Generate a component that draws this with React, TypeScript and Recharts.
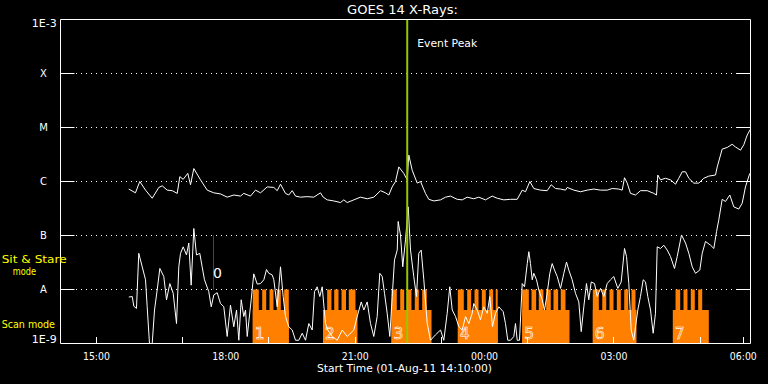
import React from 'react';
import {
  ComposedChart,
  Line,
  XAxis,
  YAxis,
  CartesianGrid,
  ReferenceArea,
  ReferenceLine,
} from 'recharts';

const FONT = '"DejaVu Sans", "Liberation Sans", sans-serif';

// x: minutes after the start time (01-Aug-11 14:10:00); y: log10 of the X-ray flux (W/m^2)
const longChannel: [number, number][] = [
  [95.0, -6.14], [104.3, -6.21], [110.3, -6.0], [118.3, -6.16], [127.6, -6.31], [136.8, -6.11],
  [141.5, -6.08], [148.5, -6.16], [155.4, -6.17], [162.4, -6.22], [166.0, -5.91], [170.7, -5.96],
  [177.1, -5.85], [180.9, -6.06], [185.5, -5.76], [194.8, -5.97], [204.1, -6.16], [213.3, -6.21],
  [222.6, -6.23], [231.9, -6.29], [241.1, -6.25], [250.4, -6.27], [255.0, -6.22], [264.3, -6.27],
  [271.3, -6.16], [278.3, -6.21], [287.6, -6.1], [296.8, -6.11], [301.5, -6.17], [306.1, -6.05],
  [313.0, -6.22], [317.6, -6.25], [322.4, -6.17], [327.0, -6.27], [333.9, -6.29], [343.2, -6.28],
  [352.4, -6.29], [361.7, -6.21], [365.5, -6.29], [371.1, -6.34], [380.2, -6.36], [389.6, -6.39],
  [394.2, -6.34], [398.9, -6.39], [408.1, -6.34], [417.4, -6.29], [426.7, -6.32], [435.9, -6.29],
  [445.2, -6.17], [452.2, -6.21], [456.8, -6.25], [461.5, -6.1], [466.1, -6.0], [470.7, -5.73],
  [477.6, -5.85], [482.4, -5.97], [484.6, -5.51], [489.3, -5.79], [496.3, -6.03], [500.9, -6.0],
  [507.8, -6.22], [512.4, -6.33], [519.4, -6.36], [528.7, -6.34], [535.7, -6.29], [542.6, -6.27],
  [551.9, -6.33], [558.9, -6.34], [565.8, -6.29], [575.0, -6.32], [582.0, -6.29], [591.3, -6.34],
  [600.6, -6.27], [607.6, -6.31], [616.8, -6.34], [626.1, -6.33], [635.4, -6.33], [642.4, -6.16],
  [647.0, -6.19], [653.0, -6.0], [658.5, -6.13], [667.8, -6.16], [677.1, -6.17], [682.7, -6.06],
  [688.7, -6.13], [695.7, -6.14], [702.6, -6.16], [705.0, -6.11], [714.2, -6.16], [723.5, -6.19],
  [732.8, -6.16], [742.0, -6.14], [751.3, -6.16], [760.6, -6.16], [767.6, -6.13], [776.8, -6.14],
  [781.5, -6.16], [784.7, -5.93], [788.5, -6.03], [793.0, -6.22], [800.0, -6.25], [807.0, -6.17],
  [816.3, -6.17], [825.5, -6.22], [829.2, -6.25], [831.0, -5.88], [834.8, -5.97], [841.7, -5.94],
  [848.7, -5.97], [855.7, -6.05], [860.2, -5.94], [865.0, -5.82], [869.6, -5.82], [874.2, -5.94],
  [881.1, -6.03], [888.1, -6.03], [895.0, -5.94], [902.0, -5.9], [911.3, -5.88], [913.7, -5.73],
  [920.6, -5.4], [927.6, -5.37], [934.5, -5.31], [939.1, -5.36], [946.1, -5.42], [950.7, -5.32],
  [955.4, -5.14], [960.0, -5.03],
];

const shortChannel: [number, number][] = [
  [95.0, -8.14], [99.8, -8.13], [102.0, -8.31], [105.7, -8.35], [108.9, -7.33], [113.7, -7.58],
  [118.3, -7.82], [120.6, -8.32], [123.8, -9.0], [127.6, -9.0], [130.8, -8.38], [134.5, -8.01],
  [138.2, -7.61], [143.7, -7.76], [147.5, -8.19], [152.1, -7.89], [156.8, -8.07], [161.4, -8.63],
  [164.6, -7.58], [167.0, -7.33], [170.7, -7.21], [175.3, -7.36], [178.5, -7.14], [181.8, -7.92],
  [185.5, -6.87], [189.2, -7.36], [193.8, -7.33], [197.1, -7.58], [200.3, -7.82], [206.3, -8.04],
  [209.7, -8.32], [213.3, -8.1], [218.0, -8.06], [222.6, -8.26], [227.2, -8.32], [231.9, -8.87],
  [236.5, -8.29], [241.1, -8.69], [244.9, -8.38], [248.1, -8.94], [251.4, -8.19], [255.0, -8.5],
  [257.4, -8.38], [259.8, -8.87], [265.3, -8.19], [268.9, -7.71], [273.7, -7.9], [278.3, -7.89],
  [282.9, -7.82], [286.6, -7.63], [289.8, -7.7], [294.5, -7.73], [296.8, -7.82], [301.5, -8.32],
  [306.1, -7.58], [309.8, -8.13], [313.0, -8.5], [317.6, -8.69], [322.4, -8.75], [327.0, -8.94],
  [331.5, -8.94], [336.3, -8.81], [340.9, -8.94], [345.5, -8.63], [350.2, -8.75], [353.4, -8.04],
  [357.1, -7.95], [360.8, -8.13], [364.1, -7.95], [368.7, -8.63], [371.9, -8.75], [378.0, -8.87],
  [385.0, -8.94], [391.9, -8.75], [398.9, -8.87], [408.1, -8.75], [412.8, -8.5], [418.4, -8.23],
  [422.0, -8.38], [426.7, -8.23], [431.3, -8.63], [435.9, -8.87], [440.6, -8.5], [444.2, -7.7],
  [447.6, -7.76], [450.8, -8.07], [454.5, -8.44], [458.2, -8.87], [461.5, -8.13], [464.7, -7.45],
  [468.5, -7.27], [469.8, -6.74], [473.0, -6.99], [476.2, -7.58], [480.0, -7.08], [483.8, -6.47],
  [487.0, -7.27], [491.5, -7.76], [495.3, -8.13], [498.5, -7.33], [501.8, -7.27], [505.5, -7.82],
  [510.2, -8.63], [514.8, -8.94], [521.7, -8.84], [528.7, -8.75], [533.3, -8.94], [538.0, -8.44],
  [541.6, -7.95], [545.0, -8.38], [549.6, -8.5], [554.2, -8.69], [558.9, -8.75], [563.5, -8.5],
  [568.1, -8.63], [572.8, -8.44], [575.0, -8.26], [579.8, -8.38], [584.3, -8.56], [588.9, -8.32],
  [593.7, -8.44], [597.3, -8.13], [601.0, -8.69], [605.2, -8.44], [609.8, -8.32], [615.9, -8.41],
  [619.1, -8.63], [622.3, -8.94], [626.1, -8.94], [630.7, -8.87], [633.0, -8.63], [635.4, -8.94],
  [638.6, -8.94], [642.4, -7.89], [645.6, -7.95], [649.4, -7.52], [651.6, -7.3], [653.9, -7.52],
  [656.3, -7.82], [658.5, -7.7], [662.3, -7.82], [665.5, -8.01], [670.2, -8.19], [673.4, -8.38],
  [677.1, -8.07], [680.8, -7.7], [684.1, -7.52], [687.3, -7.64], [691.1, -7.76], [695.7, -7.98],
  [700.3, -7.7], [704.0, -7.49], [707.2, -7.64], [711.9, -7.82], [716.5, -8.07], [721.1, -8.23],
  [724.5, -8.78], [728.1, -8.32], [731.8, -7.89], [735.0, -8.19], [738.4, -7.86], [743.0, -7.89],
  [746.7, -8.13], [751.3, -7.98], [755.9, -8.13], [760.6, -7.89], [765.2, -7.82], [769.8, -7.76],
  [775.4, -7.98], [780.1, -7.86], [784.7, -7.24], [787.5, -7.39], [790.7, -7.89], [794.0, -8.75],
  [797.6, -8.94], [800.0, -8.69], [803.2, -8.38], [806.9, -8.13], [810.7, -7.82], [813.9, -7.86],
  [817.1, -8.13], [820.9, -8.38], [824.6, -8.81], [827.8, -8.44], [830.2, -7.21], [834.8, -7.24],
  [839.4, -7.18], [844.1, -7.27], [848.7, -7.39], [854.3, -7.61], [858.0, -7.39], [864.0, -6.99],
  [869.6, -7.14], [874.2, -7.33], [878.9, -7.58], [883.5, -7.7], [889.5, -7.64], [892.8, -7.33],
  [897.4, -7.11], [904.4, -7.18], [909.0, -7.24], [912.7, -6.93], [915.9, -6.71], [920.6, -6.33],
  [925.2, -6.37], [931.2, -6.25], [936.8, -6.47], [943.7, -6.51], [948.5, -6.4], [953.0, -6.1],
  [959.0, -5.85],
];

// scan-mode periods (minutes after start), their numbers, and the individual pointings
const scanStart = [267.5, 365.2, 460.5, 552.8, 642.4, 740.6, 851.9];
const scanEnd = [317.6, 413.2, 516.2, 608.3, 708.2, 801.4, 902.0];
const scanNames = ['1', '2', '3', '4', '5', '6', '7'];
const scanBaseLevel = -8.38;

const dwellStart = [
  267.5, 280.6, 290.8, 300.9, 311.2,
  371.0, 380.8, 391.0, 401.1,
  460.5, 472.6, 482.8, 492.9, 503.2,
  552.8, 565.8, 576.0, 586.2, 596.4, 605.5,
  642.4, 655.3, 665.4, 675.7, 685.9, 696.0,
  740.6, 753.7, 763.8, 774.0, 784.3, 794.4,
  855.7, 866.8, 876.9, 887.2,
];
const dwellEnd = [
  275.9, 286.2, 296.3, 306.5, 317.6,
  377.0, 386.8, 397.2, 410.4,
  467.9, 478.2, 488.3, 498.5, 509.6,
  561.1, 571.4, 581.6, 591.7, 602.0, 608.3,
  651.6, 661.8, 671.9, 682.1, 692.4, 702.6,
  749.0, 759.3, 769.4, 779.6, 789.9, 800.0,
  862.2, 872.3, 882.5, 892.8,
];
const dwellTopLevel = -8;

const peakTime = 482.4;
const sitStareMarkTime = 212.9;
const sitStareMarkLevels = [-7, -8];
const sitStareMarkName = '0';

const yTickValues = [-9, -8, -7, -6, -5, -4, -3];
const yTickLabels = ['1E-9', 'A', 'B', 'C', 'M', 'X', '1E-3'];
const xLabelTicks = [50, 230, 410, 590, 770, 950];
const xLabelTexts = ['15:00', '18:00', '21:00', '00:00', '03:00', '06:00'];
const xBottomMarks = [50, 170, 290, 410, 530, 650, 770, 890, 950];
const xTopMarks = [50, 110, 170, 230, 290, 350, 410, 470, 530, 590, 650, 710, 770, 830, 890, 950];

const xAllBottom = Array.from(new Set([...xLabelTicks, ...xBottomMarks])).sort((a, b) => a - b);

const longData = longChannel.map(([t, v]) => ({ t, v }));
const shortData = shortChannel.map(([t, v]) => ({ t, v }));

const W = 768;
const H = 384;
const PLOT_W = 690;

const renderYTick = (props: any) => {
  const { x, y, payload } = props;
  const i = yTickValues.indexOf(payload.value);
  const label = yTickLabels[i];
  const isExp = label.startsWith('1E');
  const inner = payload.value > -9 && payload.value < -3;
  const yy = Math.round(y - 0.5) + 0.5;
  return (
    <g>
      {isExp ? (
        <text
          x={x - 3.8}
          y={payload.value === -3 ? y + 7.5 : y - 0.2}
          textAnchor="end"
          fill="#fff"
          fontSize={10}
          fontFamily={FONT}
          textLength={25}
          lengthAdjust="spacingAndGlyphs"
        >
          {label}
        </text>
      ) : (
        <text x={x - 17} y={y + 3.7} textAnchor="middle" fill="#fff" fontSize={10} fontFamily={FONT}>
          {label}
        </text>
      )}
      {inner && <line x1={x} x2={x + 14} y1={yy} y2={yy} stroke="#fff" strokeWidth={1} />}
      {inner && <line x1={x + PLOT_W - 14} x2={x + PLOT_W} y1={yy} y2={yy} stroke="#fff" strokeWidth={1} />}
    </g>
  );
};

const renderBottomTick = (props: any) => {
  const { x, y, payload } = props;
  const v = payload.value;
  const li = xLabelTicks.indexOf(v);
  const mark = xBottomMarks.includes(v);
  const xx = Math.floor(x) + 0.5;
  return (
    <g>
      {mark && <line x1={xx} x2={xx} y1={y - 6.5} y2={y} stroke="#fff" strokeWidth={1} />}
      {li >= 0 && (
        <text
          x={x}
          y={y + 16}
          textAnchor="middle"
          fill="#fff"
          fontSize={10.5}
          fontFamily={FONT}
          textLength={27}
          lengthAdjust="spacingAndGlyphs"
        >
          {xLabelTexts[li]}
        </text>
      )}
    </g>
  );
};

const renderTopTick = (props: any) => {
  const { x, y } = props;
  const xx = Math.floor(x) + 0.5;
  return <line x1={xx} x2={xx} y1={y} y2={y + 6} stroke="#fff" strokeWidth={1} />;
};

const makeScanLabel = (name: string) => (props: any) => {
  const vb = props.viewBox || {};
  return (
    <text
      x={vb.x + 2}
      y={vb.y + vb.height - 5}
      fill="none"
      stroke="#fff"
      strokeWidth={0.6}
      fontSize={15.5}
      fontFamily={FONT}
    >
      {name}
    </text>
  );
};

const renderPeakLabel = (props: any) => {
  const vb = props.viewBox || {};
  return (
    <text
      x={vb.x + 10}
      y={vb.y + 27}
      fill="#fff"
      fontSize={11}
      fontFamily={FONT}
      textLength={60}
      lengthAdjust="spacingAndGlyphs"
    >
      Event Peak
    </text>
  );
};

const renderMarkLabel = (props: any) => {
  const vb = props.viewBox || {};
  return (
    <text x={vb.x - 0.5} y={vb.y + 42} fill="#fff" fontSize={14} fontFamily={FONT}>
      {sitStareMarkName}
    </text>
  );
};

export default function App() {
  return (
    <div style={{ position: 'absolute', left: 0, top: 0, width: W, height: H, background: '#000', overflow: 'hidden' }}>
      <ComposedChart width={W} height={H} margin={{ top: 19.5, right: 17.5, bottom: 0, left: 0 }}>
        <CartesianGrid
          horizontal
          vertical={false}
          stroke="#fff"
          strokeWidth={1}
          strokeDasharray="1 4"
          strokeDashoffset={-0.5}
        />
        <XAxis
          dataKey="t"
          type="number"
          domain={[0, 960]}
          ticks={xAllBottom}
          interval={0}
          height={40.5}
          axisLine={false}
          tickLine={false}
          tickSize={0}
          tickMargin={0}
          tick={renderBottomTick}
          allowDataOverflow
        />
        <XAxis
          xAxisId="top"
          orientation="top"
          type="number"
          domain={[0, 960]}
          ticks={xTopMarks}
          interval={0}
          height={0}
          axisLine={false}
          tickLine={false}
          tickSize={0}
          tickMargin={0}
          tick={renderTopTick}
          allowDataOverflow
        />
        <YAxis
          type="number"
          domain={[-9, -3]}
          ticks={yTickValues}
          interval={0}
          width={60.5}
          axisLine={false}
          tickLine={false}
          tickSize={0}
          tickMargin={0}
          tick={renderYTick}
          allowDataOverflow
        />
        {dwellStart.map((s, i) => (
          <ReferenceArea
            key={`d${i}`}
            x1={s}
            x2={dwellEnd[i]}
            y1={-9}
            y2={dwellTopLevel}
            fill="#FF8000"
            fillOpacity={1}
            stroke="none"
            zIndex={50}
          />
        ))}
        {scanStart.map((s, i) => (
          <ReferenceArea
            key={`s${i}`}
            x1={s}
            x2={scanEnd[i]}
            y1={-9}
            y2={scanBaseLevel}
            fill="#FF8000"
            fillOpacity={1}
            stroke="none"
            zIndex={50}
            label={makeScanLabel(scanNames[i])}
          />
        ))}
        <Line
          data={shortData}
          dataKey="v"
          type="linear"
          stroke="#fff"
          strokeWidth={1}
          dot={false}
          activeDot={false}
          isAnimationActive={false}
        />
        <Line
          data={longData}
          dataKey="v"
          type="linear"
          stroke="#fff"
          strokeWidth={1}
          dot={false}
          activeDot={false}
          isAnimationActive={false}
        />
        <ReferenceLine
          segment={[
            { x: sitStareMarkTime, y: sitStareMarkLevels[0] },
            { x: sitStareMarkTime, y: sitStareMarkLevels[1] },
          ]}
          stroke="#A800A8"
          strokeWidth={1}
          label={renderMarkLabel}
          zIndex={450}
        />
        <ReferenceLine x={peakTime} stroke="#96C800" strokeWidth={2} label={renderPeakLabel} zIndex={460} />
        <ReferenceArea
          x1={0}
          x2={960}
          y1={-9}
          y2={-3}
          fill="none"
          stroke="#fff"
          strokeWidth={1}
          zIndex={470}
        />
      </ComposedChart>
      <svg
        width={W}
        height={H}
        style={{ position: 'absolute', left: 0, top: 0, pointerEvents: 'none' }}
      >
        <text x={402.5} y={14} textAnchor="middle" fill="#fff" fontSize={12} fontFamily={FONT} textLength={111} lengthAdjust="spacingAndGlyphs">
          GOES 14 X-Rays:
        </text>
        <text x={404.5} y={371.5} textAnchor="middle" fill="#fff" fontSize={10.5} fontFamily={FONT} textLength={175} lengthAdjust="spacingAndGlyphs">
          Start Time (01-Aug-11 14:10:00)
        </text>
        <text x={1.7} y={262.6} fill="#FFFF00" fontSize={10} fontFamily={FONT} textLength={65} lengthAdjust="spacingAndGlyphs">
          Sit &amp; Stare
        </text>
        <text x={12.7} y={275.2} fill="#FFFF00" fontSize={10} fontFamily={FONT} textLength={23.3} lengthAdjust="spacingAndGlyphs">
          mode
        </text>
        <text x={1.7} y={328.3} fill="#FFFF00" fontSize={10.5} fontFamily={FONT} textLength={53.3} lengthAdjust="spacingAndGlyphs">
          Scan mode
        </text>
      </svg>
    </div>
  );
}
